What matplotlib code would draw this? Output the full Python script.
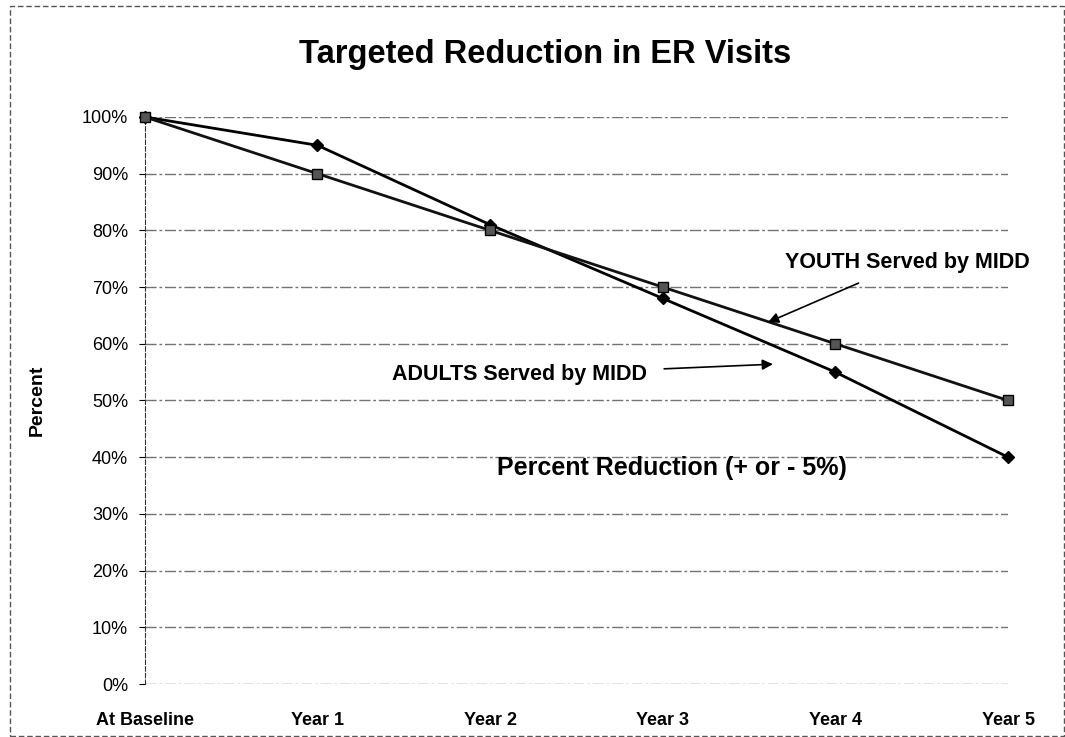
import matplotlib.pyplot as plt
from matplotlib.patches import Rectangle

categories = ["At Baseline", "Year 1", "Year 2", "Year 3", "Year 4", "Year 5"]
adults = [1.00, 0.95, 0.81, 0.68, 0.55, 0.40]
youth = [1.00, 0.90, 0.80, 0.70, 0.60, 0.50]
y_ticks = [i / 10 for i in range(11)]
y_labels = [f"{i * 10}%" for i in range(11)]

plt.rcParams["font.family"] = ["Liberation Sans", "DejaVu Sans"]

fig = plt.figure(figsize=(10.65, 7.37), dpi=100)
ax = fig.add_axes([0.136, 0.0719, 0.8105, 0.7694])

x = list(range(len(categories)))
ax.plot(x, adults, color="black", lw=2, marker="D", ms=6, mfc="black", clip_on=False, zorder=3)
ax.plot(x, youth, color="#111111", lw=2, marker="s", ms=7, mfc="#555555", mec="black",
        clip_on=False, zorder=3)

ax.set_xlim(0, 5)
ax.set_ylim(0, 1)
ax.set_yticks(y_ticks)
ax.set_yticklabels(y_labels, fontsize=13)
ax.set_xticks(x)
ax.set_xticklabels(categories, fontsize=13, fontweight="bold")
ax.tick_params(axis="x", length=0, pad=20)
ax.tick_params(axis="y", length=4, direction="out", pad=8)
for yv in y_ticks:
    ax.axhline(yv, color="#444444", lw=1.0, ls=(0, (8, 2, 2, 2)), alpha=0.75, zorder=1)

for s in ["top", "right", "bottom"]:
    ax.spines[s].set_visible(False)
ax.spines["left"].set_linestyle((0, (4, 2)))
ax.spines["left"].set_color("#333333")

ax.annotate("YOUTH Served by MIDD", xy=(3.61, 0.638), xytext=(4.415, 0.744),
            fontsize=15.5, fontweight="bold", ha="center", va="center",
            arrowprops=dict(arrowstyle="-|>", color="black", lw=1.2, shrinkA=14, shrinkB=0))
ax.annotate("ADULTS Served by MIDD", xy=(3.638, 0.564), xytext=(2.173, 0.545),
            fontsize=15.5, fontweight="bold", ha="center", va="center",
            arrowprops=dict(arrowstyle="-|>", color="black", lw=1.2, shrinkA=10, shrinkB=0))
ax.text(3.053, 0.381, "Percent Reduction (+ or - 5%)", fontsize=18, fontweight="bold",
        ha="center", va="center")

fig.text(0.512, 0.926, "Targeted Reduction in ER Visits", fontsize=23.5, fontweight="bold",
         ha="center", va="center")
fig.text(0.035, 0.457, "Percent", fontsize=14, fontweight="bold", rotation=90,
         ha="center", va="center")

fig.patches.append(Rectangle((0.009, 0.002), 0.99, 0.99, transform=fig.transFigure,
                             fill=False, ec="#555555", lw=1, ls=(0, (4, 2))))

fig.savefig("out.png", dpi=100, facecolor="white")
